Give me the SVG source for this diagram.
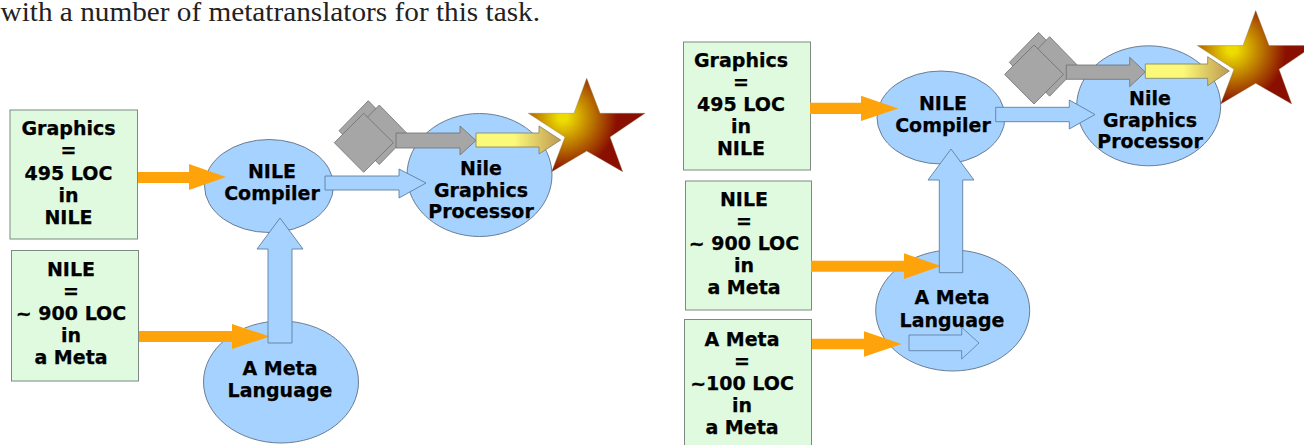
<svg xmlns="http://www.w3.org/2000/svg" xmlns:xlink="http://www.w3.org/1999/xlink" width="1304" height="445" viewBox="0 0 1304 445">
<style>
.box{fill:#dffadf;stroke:#7d8a82;stroke-width:1}
.oval{fill:#a6d2ff;stroke:#5f7286;stroke-width:.9}
.lbl{font-family:"DejaVu Sans",sans-serif;font-weight:700;font-size:19px;fill:#000;stroke:#000;stroke-width:.25;text-anchor:middle}
.or{fill:#ffa30a}
.bl{fill:#a6d2ff;stroke:#5f7f9f;stroke-width:.9}
.bl2{fill:#a6d2ff;stroke:#4f6f8f;stroke-width:.7}
.gr{fill:#a6a6a6;stroke:#6f6f6f;stroke-width:.8}
.ye{fill:url(#yg);stroke:#807f60;stroke-width:.8}
.body{font-family:"Liberation Serif",serif;font-size:27px;fill:#222}
</style>
<defs>
<linearGradient id="yg" x1="0" y1="0" x2="1" y2="0"><stop offset=".45" stop-color="#fbf97a"/><stop offset="1" stop-color="#c09a50"/></linearGradient>
<radialGradient id="sg" gradientUnits="userSpaceOnUse" cx="563" cy="117" r="60"><stop offset=".08" stop-color="#ecdc00"/><stop offset=".9" stop-color="#8a0f00"/></radialGradient>
<g id="dm">
<polygon class="gr" points="368.3,100.7 397.6,130.7 368.3,160.7 339,130.7"/>
<polygon class="gr" points="379.3,105 408.3,134.7 379.3,164.5 350.3,134.7"/>
<polygon class="gr" points="363.7,113.3 393.3,142.7 363.7,172.3 334.3,142.7"/>
</g>
<polygon id="st" fill="url(#sg)" stroke="#8a7a50" stroke-width=".4" points="586.7,78.3 600,113.3 645,113.3 610,137 622.7,171.7 586.7,151 551.7,171.7 565,137 528.3,113.3 574,113.3"/>
</defs>
<rect width="1304" height="445" fill="#fff"/>
<text class="body" x="0.5" y="21" textLength="539.5" lengthAdjust="spacingAndGlyphs">with a number of metatranslators for this task.</text>

<g id="nodes">
<g id="l-box-graphics"><rect class="box" x="10" y="110" width="127.5" height="129"/>
<text class="lbl" x="68.5" y="135">Graphics</text><text class="lbl" x="68.5" y="157">=</text><text class="lbl" x="68.5" y="180">495 LOC</text><text class="lbl" x="68.5" y="202">in</text><text class="lbl" x="68.5" y="224">NILE</text></g>
<g id="l-box-nile"><rect class="box" x="11.5" y="250.5" width="127" height="130.5"/>
<text class="lbl" x="71" y="276">NILE</text><text class="lbl" x="71" y="298">=</text><text class="lbl" x="71" y="320">~ 900 LOC</text><text class="lbl" x="71" y="342">in</text><text class="lbl" x="71" y="364">a Meta</text></g>
<g id="l-compiler"><ellipse class="oval" cx="269" cy="186" rx="64.5" ry="46.5"/>
<text class="lbl" x="272" y="178">NILE</text><text class="lbl" x="272" y="200">Compiler</text></g>
<g id="l-meta"><ellipse class="oval" cx="281" cy="382" rx="77.5" ry="61"/>
<text class="lbl" x="280" y="375">A Meta</text><text class="lbl" x="280" y="397">Language</text></g>
<g id="l-processor"><ellipse class="oval" cx="479.5" cy="175" rx="72.5" ry="61.5"/>
<text class="lbl" x="481" y="175">Nile</text><text class="lbl" x="481" y="197">Graphics</text><text class="lbl" x="481" y="218">Processor</text></g>
<g id="l-star"><use xlink:href="#st" href="#st"/></g>
<g id="l-diamonds"><use xlink:href="#dm" href="#dm"/></g>

<g id="r-box-graphics"><rect class="box" x="683.5" y="42" width="127" height="128"/>
<text class="lbl" x="741" y="67">Graphics</text><text class="lbl" x="741" y="89">=</text><text class="lbl" x="741" y="111">495 LOC</text><text class="lbl" x="741" y="133">in</text><text class="lbl" x="741" y="155">NILE</text></g>
<g id="r-box-nile"><rect class="box" x="685.5" y="181" width="126" height="129"/>
<text class="lbl" x="744" y="206">NILE</text><text class="lbl" x="744" y="228">=</text><text class="lbl" x="744" y="250">~ 900 LOC</text><text class="lbl" x="744" y="272">in</text><text class="lbl" x="744" y="294">a Meta</text></g>
<g id="r-box-meta"><rect class="box" x="684.5" y="319.5" width="127" height="135"/>
<text class="lbl" x="742" y="346">A Meta</text><text class="lbl" x="742" y="368">=</text><text class="lbl" x="742" y="390">~100 LOC</text><text class="lbl" x="742" y="412">in</text><text class="lbl" x="742" y="434">a Meta</text></g>
<g id="r-compiler"><ellipse class="oval" cx="941" cy="117.5" rx="64" ry="46.5"/>
<text class="lbl" x="943" y="110">NILE</text><text class="lbl" x="943" y="132">Compiler</text></g>
<g id="r-meta"><ellipse class="oval" cx="952.7" cy="310.5" rx="77" ry="60.5"/>
<text class="lbl" x="952" y="304">A Meta</text><text class="lbl" x="952" y="327">Language</text></g>
<g id="r-processor"><ellipse class="oval" cx="1148.7" cy="105.8" rx="72" ry="60"/>
<text class="lbl" x="1150" y="105">Nile</text><text class="lbl" x="1150" y="127">Graphics</text><text class="lbl" x="1150" y="148">Processor</text></g>
<g id="r-star"><use xlink:href="#st" href="#st" transform="translate(669,-67.7)"/></g>
<g id="r-diamonds"><use xlink:href="#dm" href="#dm" transform="translate(670.3,-68.3)"/></g>
</g>

<g id="connectors">
<polygon class="or" points="138,172 189,172 189,164 226,177 189,190 189,183 138,183"/>
<polygon class="or" points="139,331 232,331 232,324 270,336.5 232,349 232,342 139,342"/>
<polygon class="bl" points="268,343 268,249 257,249 280,218 303,249 292,249 292,343"/>
<polygon class="bl" points="325,176 399,176 399,169 426,183 399,198 399,190 325,190"/>
<polygon class="gr" points="396,133 460,133 460,126 476,140.5 460,155 460,148 396,148"/>
<polygon class="ye" points="476,133 539,133 539,126 560.7,140 539,154 539,147 476,147"/>

<polygon class="or" points="810,102.7 861,102.7 861,95.7 898.3,108.5 861,121 861,114 810,114"/>
<polygon class="or" points="811,260.7 904,260.7 904,253.3 941,266 904,279 904,271.7 811,271.7"/>
<polygon class="or" points="812,338.7 864,338.7 864,331.3 901.7,344 864,356.7 864,349.3 812,349.3"/>
<polygon class="bl" points="939.3,272.7 939.3,180 928,180 951,149 974,180 962.7,180 962.7,272.7"/>
<polygon class="bl" points="995.7,107.3 1069.3,107.3 1069.3,100 1095,114.5 1069.3,129 1069.3,121.7 995.7,121.7"/>
<polygon class="gr" points="1066.3,65 1129.7,65 1129.7,57.3 1145.3,72 1129.7,86.7 1129.7,79.3 1066.3,79.3"/>
<polygon class="ye" points="1145.3,64 1207.7,64 1207.7,56.7 1229.3,71 1207.7,85.7 1207.7,78.3 1145.3,78.3"/>
<polygon class="bl2" points="909,335 961.7,335 961.7,327.3 979,343 961.7,359 961.7,350.7 909,350.7"/>
</g>
</svg>
